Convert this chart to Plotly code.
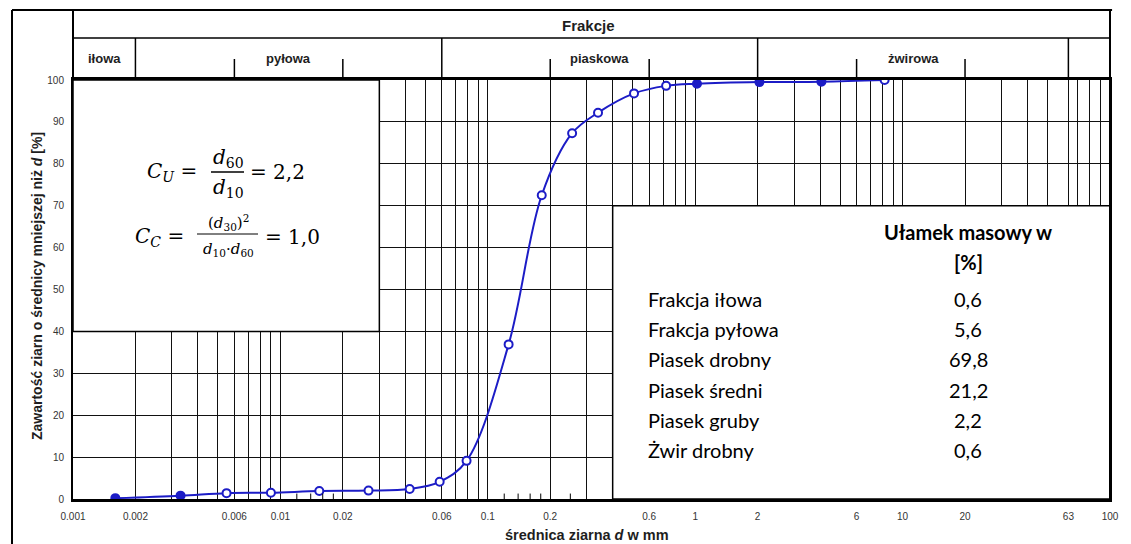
import math
import plotly.graph_objects as go

# Grain-size results: diameter [mm] and cumulative percent finer
diameter_mm = [0.0016, 0.0033, 0.0055, 0.009, 0.0154, 0.0266, 0.042, 0.0586, 0.079,
               0.126, 0.182, 0.255, 0.34, 0.507, 0.724, 1.02, 2.04, 4.06, 8.19]
passing_pct = [0.2, 0.8, 1.4, 1.5, 1.9, 2.0, 2.4, 4.1, 9.1,
               36.9, 72.5, 87.3, 92.2, 96.8, 98.6, 99.1, 99.5, 99.6, 100.0]
filled_point = [True, True, False, False, False, False, False, False, False,
                False, False, False, False, False, False, True, True, True, False]

# Fraction bands along the diameter axis
fraction_names = ["iłowa", "pyłowa", "piaskowa", "żwirowa"]
fraction_bounds = [0.001, 0.002, 0.06, 2, 63]
sub_fraction_marks = [0.006, 0.02, 0.2, 0.6, 6, 20]
bottom_minor_ticks = [0.012, 0.014, 0.016, 0.018, 0.12, 0.14, 0.16, 0.18, 0.25]

# Axis ticks
grid_x = ([m * 0.001 for m in range(1, 10)] + [m * 0.01 for m in range(1, 10)] +
          [m * 0.1 for m in range(1, 10)] + [m * 1.0 for m in range(1, 10)] +
          [10, 20, 30, 40, 50, 63, 70, 80, 90, 100])
x_label_vals = [0.001, 0.002, 0.006, 0.01, 0.02, 0.06, 0.1, 0.2, 0.6, 1, 2, 6, 10, 20, 63, 100]
x_label_text = ["0.001", "0.002", "0.006", "0.01", "0.02", "0.06", "0.1", "0.2", "0.6",
                "1", "2", "6", "10", "20", "63", "100"]
y_ticks = [0, 10, 20, 30, 40, 50, 60, 70, 80, 90, 100]

# Mass fraction table
table_rows = ["Frakcja iłowa", "Frakcja pyłowa", "Piasek drobny", "Piasek średni",
              "Piasek gruby", "Żwir drobny"]
table_values = [0.6, 5.6, 69.8, 21.2, 2.2, 0.6]

# Coefficients of uniformity and curvature
cu_value = 2.2
cc_value = 1.0

BLUE = "#1c1cc6"
INK = "#1e1e1e"
SANS = "Liberation Sans, Arial, sans-serif"
SERIF = "DejaVu Serif, serif"
TABLE_FONT = "Lato, sans-serif"

W, H = 1131, 544
ML, MR, MT, MB = 73, 21, 80, 45
PW, PH = W - ML - MR, H - MT - MB


def px_x(px):
    return (px - ML) / PW


def px_y(py):
    return (H - MB - py) / PH


def comma(v):
    return f"{v:.1f}".replace(".", ",")


def find_label(v):
    for lv, lt in zip(x_label_vals, x_label_text):
        if abs(math.log10(v) - math.log10(lv)) < 1e-6:
            return lt
    return ""


tick_text = [find_label(v) for v in grid_x]

fig = go.Figure()

fig.add_trace(go.Scatter(
    x=diameter_mm, y=passing_pct, mode="lines",
    line=dict(color=BLUE, width=2, shape="spline", smoothing=1.0),
    hoverinfo="skip"))

fig.add_trace(go.Scatter(
    x=diameter_mm, y=passing_pct, mode="markers",
    marker=dict(size=8, color=[BLUE if f else "white" for f in filled_point],
                line=dict(color=BLUE, width=2))))

shapes = []
line_black = dict(color="black", width=1.5)

# White panels over the grid
shapes.append(dict(type="rect", xref="x", yref="y", x0=0.001, x1=0.03, y0=40, y1=100,
                   fillcolor="white", line=line_black, layer="between"))
shapes.append(dict(type="rect", xref="x", yref="y", x0=0.4, x1=100, y0=0, y1=70,
                   fillcolor="white", line=line_black, layer="between"))

# Header frame
top = px_y(10)
row = px_y(38)
mark_top = px_y(59)
left_frame = px_x(12)
shapes.append(dict(type="line", xref="paper", yref="paper", x0=left_frame, x1=1.002,
                   y0=top, y1=top, line=dict(color="black", width=2)))
shapes.append(dict(type="line", xref="paper", yref="paper", x0=left_frame, x1=left_frame,
                   y0=-0.2, y1=top, line=dict(color="black", width=2)))
shapes.append(dict(type="line", xref="paper", yref="paper", x0=1.0, x1=1.0,
                   y0=0, y1=top, line=dict(color="black", width=2)))
shapes.append(dict(type="line", xref="paper", yref="paper", x0=0, x1=0,
                   y0=1.0, y1=top, line=dict(color="black", width=2)))
shapes.append(dict(type="line", xref="paper", yref="paper", x0=0, x1=1.0,
                   y0=row, y1=row, line=dict(color="black", width=1.5)))
for b in fraction_bounds[1:]:
    shapes.append(dict(type="line", xref="x", yref="paper", x0=b, x1=b,
                       y0=1.0, y1=row, line=line_black))
for m in sub_fraction_marks:
    shapes.append(dict(type="line", xref="x", yref="paper", x0=m, x1=m,
                       y0=1.0, y1=mark_top, line=line_black))
for m in bottom_minor_ticks:
    shapes.append(dict(type="line", xref="x", yref="paper", x0=m, x1=m,
                       y0=0, y1=0.013, line=dict(color="black", width=1)))

# Fraction bars of the formulas
shapes.append(dict(type="line", xref="paper", yref="paper", x0=px_x(211), x1=px_x(244),
                   y0=px_y(172), y1=px_y(172), line=dict(color="black", width=1.3)))
shapes.append(dict(type="line", xref="paper", yref="paper", x0=px_x(197), x1=px_x(258),
                   y0=px_y(234), y1=px_y(234), line=dict(color="black", width=1)))

ann = []


def text(x, y, s, size, family=SANS, bold=False, xanchor="center", xref="paper",
         color=INK, angle=0):
    if bold:
        s = f"<b>{s}</b>"
    ann.append(dict(x=x, y=y, xref=xref, yref="paper", text=s, showarrow=False,
                    xanchor=xanchor, yanchor="middle", textangle=angle,
                    font=dict(family=family, size=size, color=color)))


# Header labels
text(px_x(588), px_y(25), "Frakcje", 15, bold=True)
for i, name in enumerate(fraction_names):
    lo, hi = fraction_bounds[i], fraction_bounds[i + 1]
    text((math.log10(lo) + math.log10(hi)) / 2, px_y(59), name, 13, bold=True, xref="x")

# Axis titles
text(px_x(587), px_y(535), "średnica ziarna <i>d</i> w mm", 14.5, bold=True)
text(px_x(37), px_y(286), "Zawartość ziarn o średnicy mniejszej niż <i>d</i> [%]", 14,
     bold=True, angle=-90)

# Formulas
text(px_x(199), px_y(172), "<i>C</i><sub><i>U</i></sub> =", 20, family=SERIF,
     xanchor="right", color="black")
text(px_x(228), px_y(158), "<i>d</i><sub>60</sub>", 20, family=SERIF, color="black")
text(px_x(228), px_y(188), "<i>d</i><sub>10</sub>", 20, family=SERIF, color="black")
text(px_x(248), px_y(172), "= " + comma(cu_value), 20, family=SERIF, xanchor="left",
     color="black")

text(px_x(186), px_y(237), "<i>C</i><sub><i>C</i></sub> =", 20, family=SERIF,
     xanchor="right", color="black")
text(px_x(228), px_y(222), "(<i>d</i><sub>30</sub>)<sup>2</sup>", 15, family=SERIF,
     color="black")
text(px_x(228), px_y(249), "<i>d</i><sub>10</sub>·<i>d</i><sub>60</sub>", 15,
     family=SERIF, color="black")
text(px_x(263), px_y(237), "= " + comma(cc_value), 20, family=SERIF, xanchor="left",
     color="black")

# Table
col_val = px_x(968)
col_lbl = px_x(646)
text(col_val, px_y(232), "Ułamek masowy w", 20, family=TABLE_FONT, bold=True, color="black")
text(col_val, px_y(262), "[%]", 20, family=TABLE_FONT, bold=True, color="black")
for i, (name, val) in enumerate(zip(table_rows, table_values)):
    y = px_y(299 + 30.2 * i)
    text(col_lbl, y, name, 20, family=TABLE_FONT, xanchor="left", color="black")
    text(col_val, y, comma(val), 20, family=TABLE_FONT, color="black")

fig.update_layout(
    width=W, height=H, autosize=False,
    margin=dict(l=ML, r=MR, t=MT, b=MB, pad=0),
    paper_bgcolor="white", plot_bgcolor="white",
    showlegend=False,
    shapes=shapes, annotations=ann,
    font=dict(family=SANS, size=10, color="#333"),
    xaxis=dict(type="log", range=[-3, 2], tickvals=grid_x, ticktext=tick_text,
               showgrid=True, gridcolor="#111", gridwidth=1.3,
               showline=True, linecolor="black", linewidth=2.5, mirror=True,
               ticks="", zeroline=False, ticklabelstandoff=6,
               tickfont=dict(family=SANS, size=10, color="#333")),
    yaxis=dict(range=[0, 100], tickvals=y_ticks,
               showgrid=True, gridcolor="#111", gridwidth=1.3,
               showline=True, linecolor="black", linewidth=2, mirror=True,
               ticks="", zeroline=False, ticklabelstandoff=5,
               tickfont=dict(family=SANS, size=10, color="#333")),
)

fig.write_html("out.html")
